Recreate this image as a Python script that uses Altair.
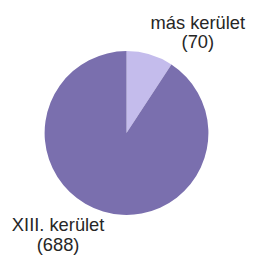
import altair as alt
import pandas as pd

categories = ["más kerület", "XIII. kerület"]
values = [70, 688]
colors = ["#c4bcec", "#7a6fae"]

df = pd.DataFrame({
    "category": categories,
    "value": values,
    "order": list(range(len(categories))),
    "label": [f"{c}\n({v})" for c, v in zip(categories, values)],
})

base = alt.Chart(df)

pie = base.mark_arc(outerRadius=85, stroke=None).encode(
    theta=alt.Theta("value:Q", stack=True),
    color=alt.Color("category:N", scale=alt.Scale(domain=categories, range=colors), legend=None),
    order=alt.Order("order:Q"),
    x=alt.value(123),
    y=alt.value(125),
)

text_style = dict(font="Liberation Sans", fontSize=19, color="#262626",
                  align="center", baseline="alphabetic", lineBreak="\n", lineHeight=20)

lab1 = base.transform_filter(alt.datum.category == categories[0]).mark_text(**text_style).encode(
    text="label:N", x=alt.value(197), y=alt.value(17))
lab2 = base.transform_filter(alt.datum.category == categories[1]).mark_text(**text_style).encode(
    text="label:N", x=alt.value(52), y=alt.value(227))

chart = alt.layer(pie, lab1, lab2).properties(
    width=238, height=245, padding=0
).configure_view(stroke=None)

chart.save("out.html", embed_options={"renderer": "svg", "actions": False})
